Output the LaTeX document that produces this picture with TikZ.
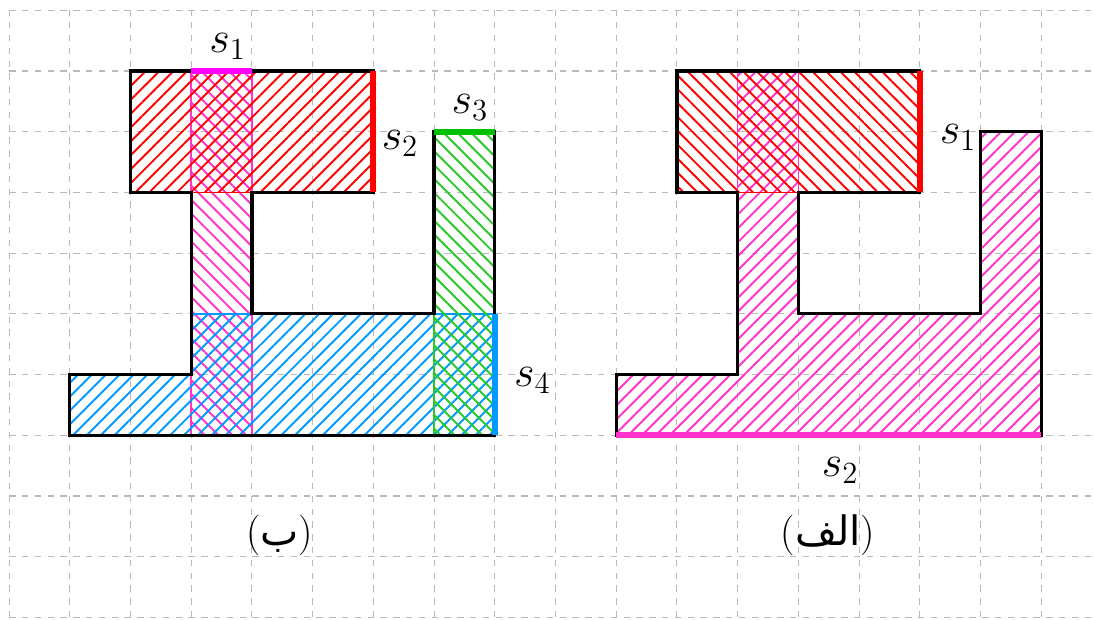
\documentclass[tikz,border=0pt]{standalone}
\usepackage{fontspec}
\usetikzlibrary{patterns.meta}
\newfontfamily\arabicfont[Script=Arabic]{DejaVu Sans}
\TeXXeTstate=1
\definecolor{rosa}{RGB}{255,51,204}
\definecolor{magenta}{RGB}{255,0,255}
\definecolor{verde}{RGB}{40,200,40}
\definecolor{verdeoscuro}{RGB}{0,190,0}
\definecolor{azul}{RGB}{0,153,255}
\definecolor{rojo}{RGB}{255,0,0}

\begin{document}
\begin{tikzpicture}[
			hatch/.style 2 args={
				pattern={Lines[angle=#1, distance=4.6pt, line width=0.9pt]},
				pattern color=#2,
				draw=#2,
				line width=0.8pt
			},
			borde/.style={draw=black, line width=1.5pt},
			lado/.style={draw=#1, line width=2.7pt},
			etiqueta/.style={font=\fontsize{19}{23}\selectfont},
			every node/.style={font=\fontsize{22}{26}\selectfont, inner sep=1pt}
			]
			
			\useasboundingbox (-0.15,-0.03) rectangle (17.87,10.17);
			\draw[gray!55, dashed, line width=0.5pt, step=1] (0,0) grid (17.87,10);
			
			% figura (b)
			\path[hatch={-45}{rosa}] (3,3) rectangle (4,9);
			\path[hatch={45}{rojo}] (2,7) rectangle (6,9);
			\path[hatch={45}{azul}] (1,3) -- (8,3) -- (8,5) -- (3,5) -- (3,4) -- (1,4) -- cycle;
			\path[hatch={-45}{verde}] (7,3) rectangle (8,8);
			\draw[borde] (2,9) -- (6,9) -- (6,7) -- (4,7) -- (4,5) -- (7,5) -- (7,8) -- (8,8) -- (8,3)
				-- (1,3) -- (1,4) -- (3,4) -- (3,7) -- (2,7) -- cycle;
			\draw[lado=magenta] (3,9) -- (4,9);
			\draw[lado=rojo] (6,7) -- (6,9);
			\draw[lado=verdeoscuro] (7,8) -- (8,8);
			\draw[lado=azul] (8,3) -- (8,5);
			
			\node (b1) at (3.6,9.4) {$s_1$};
			\node (b2) at (6.44,7.81) {$s_2$};
			\node (b3) at (7.59,8.4) {$s_3$};
			\node (b4) at (8.62,3.9) {$s_4$};
			\node[etiqueta] (capb) at (4.46,1.35) {({\arabicfont\beginR ب\endR})};
			
			% figura (alef)
			\path[hatch={45}{rosa}] (12,9) -- (13,9) -- (13,5) -- (16,5) -- (16,8) -- (17,8) -- (17,3)
				-- (10,3) -- (10,4) -- (12,4) -- cycle;
			\path[hatch={-45}{rojo}] (11,7) rectangle (15,9);
			\draw[borde] (11,9) -- (15,9) -- (15,7) -- (13,7) -- (13,5) -- (16,5) -- (16,8) -- (17,8) -- (17,3)
				-- (10,3) -- (10,4) -- (12,4) -- (12,7) -- (11,7) -- cycle;
			\draw[lado=rojo] (15,7) -- (15,9);
			\draw[lado=rosa] (10,3) -- (17,3);
			
			\node (a1) at (15.63,7.91) {$s_1$};
			\node (a2) at (13.69,2.42) {$s_2$};
			\node[etiqueta] (capa) at (13.49,1.35) {({\arabicfont\beginR الف\endR})};
			
		\end{tikzpicture}
\end{document}
